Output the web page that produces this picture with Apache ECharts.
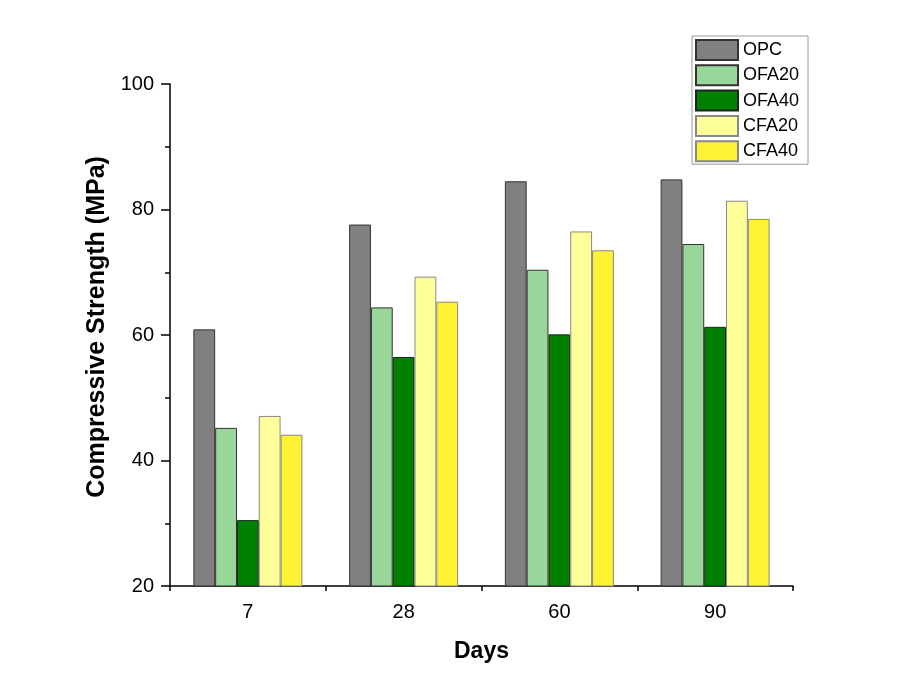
<!DOCTYPE html>
<html>
<head>
<meta charset="utf-8">
<script src="https://cdn.jsdelivr.net/npm/echarts@6/dist/echarts.min.js"></script>
<style>html,body{margin:0;padding:0;background:#fff}#c{width:907px;height:693px}</style>
</head>
<body>
<div id="c"></div>
<script>
const categories = ['7', '28', '60', '90'];
const seriesNames = ['OPC', 'OFA20', 'OFA40', 'CFA20', 'CFA40'];
const OPC   = [60.9, 77.6, 84.5, 84.8];
const OFA20 = [45.2, 64.4, 70.4, 74.5];
const OFA40 = [30.5, 56.5, 60.1, 61.3];
const CFA20 = [47.1, 69.3, 76.5, 81.4];
const CFA40 = [44.1, 65.3, 73.5, 78.5];
const yTicks = [20, 40, 60, 80, 100];

const values = [OPC, OFA20, OFA40, CFA20, CFA40];
const colors = ['#808080', '#99d699', '#008000', '#ffff99', '#fff233'];
const borders = ['#333333', '#333333', '#222222', '#888888', '#888888'];
const font = '"Liberation Sans", Arial, sans-serif';

const chart = echarts.init(document.getElementById('c'), null, {renderer: 'canvas'});
chart.setOption({
  animation: false,
  backgroundColor: '#fff',
  grid: {left: 170, right: 114, top: 84, bottom: 107, containLabel: false},
  legend: {
    orient: 'vertical', left: 692, top: 36,
    icon: 'rect',
    itemWidth: 42, itemHeight: 20, itemGap: 3.3,
    padding: [3, 9, 2, 3],
    borderColor: '#999', borderWidth: 1,
    textStyle: {fontFamily: font, fontSize: 18, color: '#000', lineHeight: 20},
    data: seriesNames
  },
  xAxis: [{
    type: 'category', data: categories,
    name: 'Days', nameLocation: 'middle', nameGap: 54,
    nameTextStyle: {fontFamily: font, fontSize: 23, fontWeight: 'bold', color: '#000'},
    axisLine: {lineStyle: {color: '#000', width: 1.5}},
    axisTick: {alignWithLabel: true, length: 9, lineStyle: {color: '#000', width: 1.5}},
    axisLabel: {fontFamily: font, fontSize: 20, color: '#000', margin: 16},
    splitLine: {show: false}
  }, {
    type: 'value', min: 0, max: 4, interval: 1, position: 'bottom',
    axisLine: {show: false},
    axisTick: {show: true, length: 5, lineStyle: {color: '#000', width: 1.5}},
    axisLabel: {show: false},
    splitLine: {show: false}
  }],
  yAxis: {
    type: 'value', min: yTicks[0], max: yTicks[yTicks.length - 1], interval: 20,
    name: 'Compressive Strength (MPa)', nameLocation: 'middle', nameGap: 54,
    nameTextStyle: {fontFamily: font, fontSize: 25, fontWeight: 'bold', color: '#000', padding: [0, 0, 0, 16]},
    axisLine: {show: true, lineStyle: {color: '#000', width: 1.5}},
    axisTick: {show: true, length: 9, lineStyle: {color: '#000', width: 1.5}},
    minorTick: {show: true, splitNumber: 2, length: 5, lineStyle: {color: '#000', width: 1.5}},
    axisLabel: {fontFamily: font, fontSize: 20, color: '#000', margin: 16},
    splitLine: {show: false}
  },
  series: seriesNames.map((n, i) => ({
    name: n, type: 'bar', xAxisIndex: 0, data: values[i],
    barGap: '0%', barCategoryGap: '30%',
    itemStyle: {color: colors[i], borderColor: borders[i], borderWidth: 1}
  }))
});
</script>
</body>
</html>
